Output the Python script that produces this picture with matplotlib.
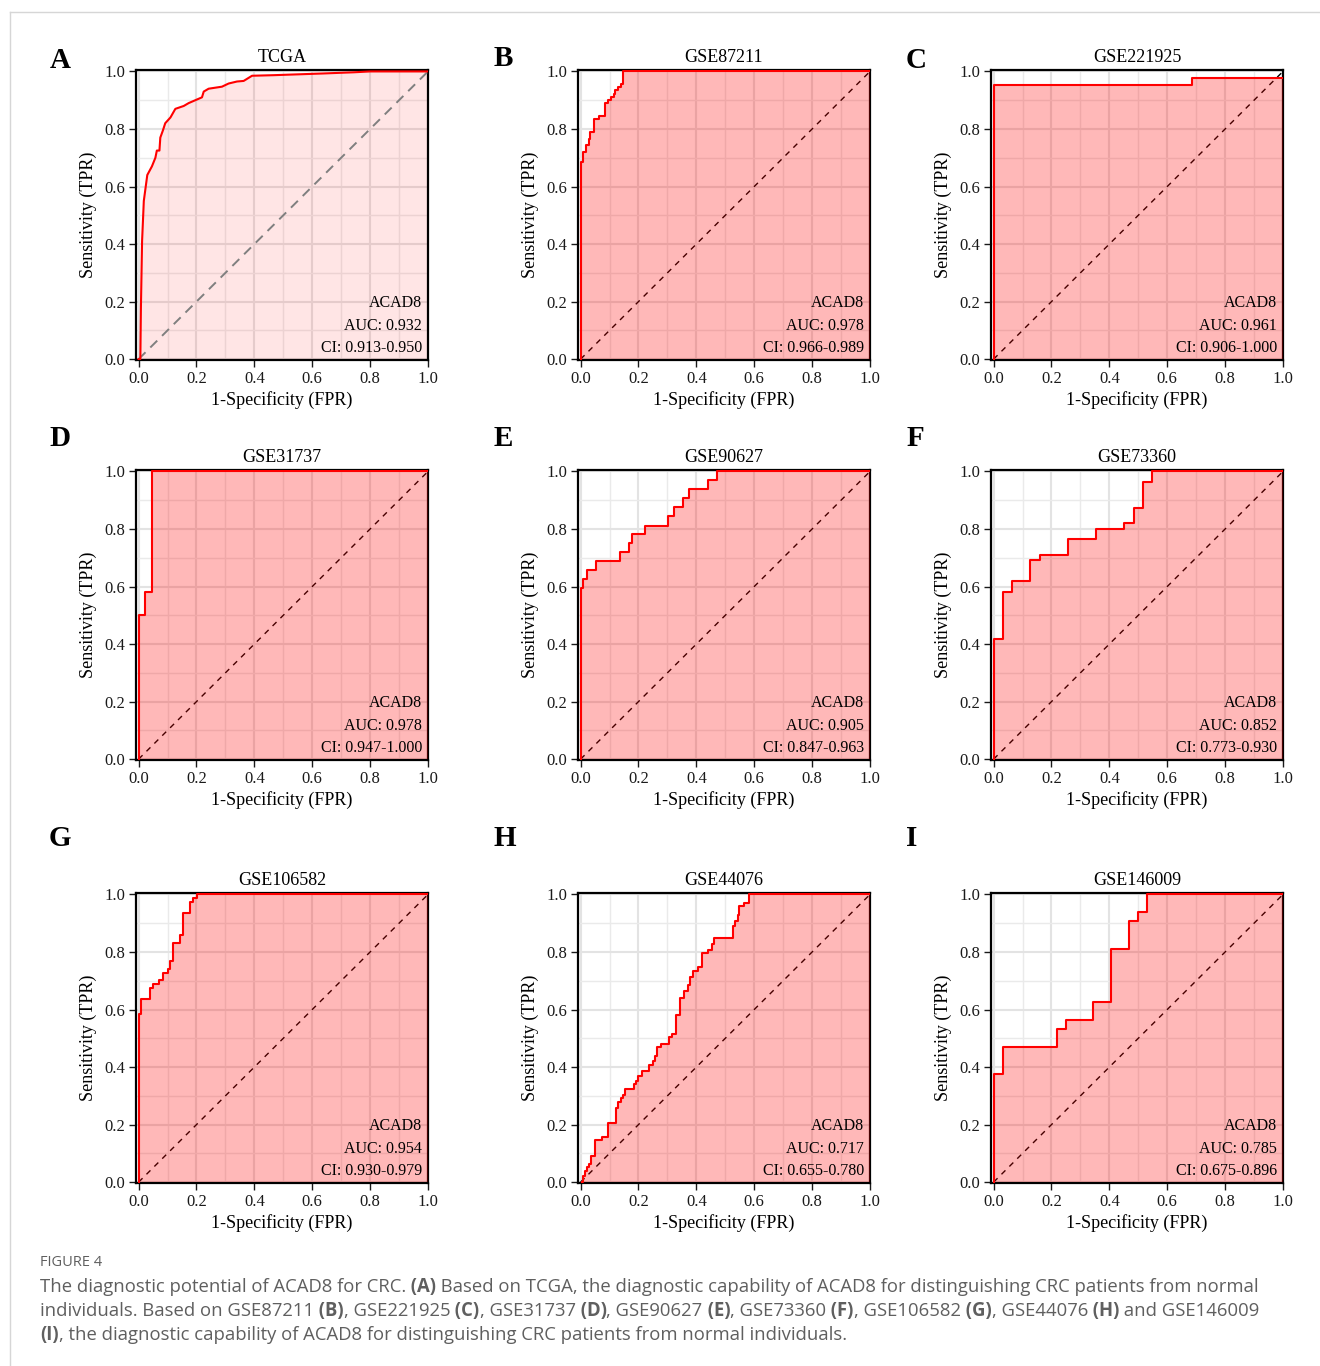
import numpy as np
import matplotlib
matplotlib.use("Agg")
import matplotlib.pyplot as plt
from matplotlib.lines import Line2D
from matplotlib.ticker import MultipleLocator

plt.rcParams['font.family'] = ['Liberation Serif', 'DejaVu Serif']

# data
letters = ['A', 'B', 'C', 'D', 'E', 'F', 'G', 'H', 'I']
titles = ['TCGA', 'GSE87211', 'GSE221925', 'GSE31737', 'GSE90627',
          'GSE73360', 'GSE106582', 'GSE44076', 'GSE146009']
auc = ['0.932', '0.978', '0.961', '0.978', '0.905', '0.852', '0.954', '0.717', '0.785']
ci = ['0.913-0.950', '0.966-0.989', '0.906-1.000', '0.947-1.000', '0.847-0.963',
      '0.773-0.930', '0.930-0.979', '0.655-0.780', '0.675-0.896']
gene = 'ACAD8'

fpr_a = [0.0, 0.006, 0.008, 0.012, 0.018, 0.03, 0.046, 0.058, 0.063, 0.072, 0.075, 0.084,
         0.092, 0.11, 0.127, 0.156, 0.173, 0.196, 0.219, 0.225, 0.242, 0.288, 0.311,
         0.34, 0.363, 0.392, 0.467, 0.64, 0.743, 0.80, 1.0]
tpr_a = [0.0, 0.0, 0.18, 0.41, 0.55, 0.64, 0.67, 0.70, 0.725, 0.725, 0.77, 0.795,
         0.82, 0.84, 0.87, 0.88, 0.89, 0.90, 0.91, 0.93, 0.94, 0.947, 0.958,
         0.965, 0.967, 0.985, 0.987, 0.993, 0.997, 1.0, 1.0]

fpr_b = [0, 0, 0.008, 0.02, 0.028, 0.033, 0.045, 0.065, 0.083, 0.095, 0.105, 0.115, 0.12, 0.13, 0.14, 0.148, 1.0]
tpr_b = [0, 0.685, 0.72, 0.745, 0.765, 0.79, 0.835, 0.845, 0.89, 0.9, 0.91, 0.92, 0.935, 0.945, 0.955, 1.0, 1.0]

fpr_c = [0, 0, 0.686, 1.0]
tpr_c = [0, 0.954, 0.977, 0.977]

fpr_d = [0, 0, 0.023, 0.048, 1.0]
tpr_d = [0, 0.5, 0.58, 1.0, 1.0]

fpr_e = [0, 0, 0.01, 0.023, 0.054, 0.136, 0.167, 0.178, 0.221, 0.303, 0.324, 0.355, 0.376, 0.439, 0.471, 1.0]
tpr_e = [0, 0.594, 0.625, 0.656, 0.688, 0.719, 0.75, 0.781, 0.812, 0.844, 0.875, 0.906, 0.938, 0.969, 1.0, 1.0]

fpr_f = [0, 0, 0.031, 0.063, 0.127, 0.159, 0.257, 0.354, 0.452, 0.484, 0.516, 0.548, 1.0]
tpr_f = [0, 0.419, 0.582, 0.619, 0.693, 0.71, 0.764, 0.801, 0.82, 0.873, 0.965, 1.0, 1.0]

fpr_g = [0, 0, 0.008, 0.04, 0.05, 0.069, 0.086, 0.101, 0.109, 0.119, 0.142, 0.153, 0.179, 0.188, 0.202, 1.0]
tpr_g = [0, 0.584, 0.636, 0.676, 0.688, 0.703, 0.728, 0.74, 0.769, 0.832, 0.86, 0.934, 0.973, 0.988, 1.0, 1.0]

fpr_h = [0.005, 0.008, 0.014, 0.023, 0.029, 0.037, 0.051, 0.074, 0.094, 0.123, 0.129, 0.138, 0.146,
         0.154, 0.184, 0.192, 0.198, 0.211, 0.238, 0.249, 0.257, 0.264, 0.278, 0.307, 0.315,
         0.33, 0.345, 0.357, 0.37, 0.379, 0.39, 0.407, 0.42, 0.439, 0.454, 0.462, 0.528,
         0.535, 0.543, 0.548, 0.566, 0.583, 1.0]
tpr_h = [0, 0.02, 0.04, 0.052, 0.064, 0.092, 0.145, 0.156, 0.205, 0.257, 0.277, 0.291, 0.302,
         0.325, 0.34, 0.351, 0.37, 0.387, 0.407, 0.422, 0.439, 0.47, 0.48, 0.503, 0.514,
         0.58, 0.641, 0.665, 0.685, 0.712, 0.735, 0.747, 0.797, 0.808, 0.828, 0.847, 0.891,
         0.908, 0.928, 0.96, 0.969, 1.0, 1.0]

fpr_i = [0, 0, 0.031, 0.219, 0.25, 0.344, 0.406, 0.469, 0.5, 0.531, 1.0]
tpr_i = [0, 0.375, 0.469, 0.531, 0.562, 0.625, 0.812, 0.906, 0.938, 1.0, 1.0]

fprs = [fpr_a, fpr_b, fpr_c, fpr_d, fpr_e, fpr_f, fpr_g, fpr_h, fpr_i]
tprs = [tpr_a, tpr_b, tpr_c, tpr_d, tpr_e, tpr_f, tpr_g, tpr_h, tpr_i]

W, H = 1320, 1366
fig = plt.figure(figsize=(W / 100, H / 100), dpi=100)

# background axes for border and caption
bg = fig.add_axes([0, 0, 1, 1])
bg.set_xlim(0, W)
bg.set_ylim(H, 0)
bg.axis('off')
bg.add_line(Line2D([9.5, 9.5], [12, H], color='#d6d6d6', lw=1))
bg.add_line(Line2D([9.5, W], [12, 12], color='#d6d6d6', lw=1))

col_left = [136, 578, 991]
row_top = [70, 470, 893]
aw, ah = 292, 290
letter_pos = [(60, 60), (503, 58), (916, 60),
              (60, 438), (503, 438), (915, 438),
              (60, 838), (505, 838), (912, 838)]

for k in range(9):
    r, c = divmod(k, 3)
    x0, y0 = col_left[c], row_top[r]
    ax = fig.add_axes([x0 / W, 1 - (y0 + ah) / H, aw / W, ah / H])
    ax.set_xlim(-0.009, 1.0)
    ax.set_ylim(-0.003, 1.005)
    ax.xaxis.set_major_locator(MultipleLocator(0.2))
    ax.yaxis.set_major_locator(MultipleLocator(0.2))
    ax.xaxis.set_minor_locator(MultipleLocator(0.1))
    ax.yaxis.set_minor_locator(MultipleLocator(0.1))
    ax.grid(which='major', color='#e3e3e3', lw=1.5, zorder=0)
    ax.grid(which='minor', color='#eaeaea', lw=1.0, zorder=0)
    ax.set_axisbelow(True)
    ax.tick_params(which='minor', length=0)
    ax.tick_params(which='major', direction='out', length=5, width=1,
                   labelsize=12, colors='#1a1a1a', pad=3)
    ax.xaxis.set_major_formatter(plt.FuncFormatter(lambda v, p: '%.1f' % v))
    ax.yaxis.set_major_formatter(plt.FuncFormatter(lambda v, p: '%.1f' % v))
    for sp in ax.spines.values():
        sp.set_linewidth(1.6)
        sp.set_color('black')

    fpr, tpr = fprs[k], tprs[k]
    if k == 0:
        ax.plot([0, 1], [0, 1], color='#7f7f7f', lw=1.4, dashes=(5, 3.5), zorder=3)
        ax.fill_between(fpr, tpr, 0, color='#ff0000', alpha=0.10, lw=0, zorder=2)
        ax.plot(fpr, tpr, color='#ff0000', lw=1.5, zorder=4)
    else:
        ax.plot([0, 1], [0, 1], color='black', lw=1.0, dashes=(4, 4), zorder=2)
        ax.fill_between(fpr, tpr, 0, step='post', color='#ff0000', alpha=0.28, lw=0, zorder=3)
        ax.step(fpr, tpr, where='post', color='#ff0000', lw=1.5, zorder=4)

    ax.set_title(titles[k], fontsize=13, pad=6)
    ax.set_xlabel('1-Specificity (FPR)', fontsize=13, labelpad=3)
    ax.set_ylabel('Sensitivity (TPR)', fontsize=13, labelpad=5)
    for j, s in enumerate([gene, 'AUC: ' + auc[k], 'CI: ' + ci[k]]):
        ax.text(0.98, 0.195 - 0.079 * j, s, ha='right', va='center', fontsize=11.5, zorder=5)

    lx, ly = letter_pos[k]
    bg.text(lx, ly, letters[k], ha='center', va='center', fontsize=21, fontweight='bold')

# caption
cap_font = ['Open Sans', 'DejaVu Sans']
cap_col = '#5f5f5f'
bg.text(40, 1263, 'FIGURE 4', ha='left', va='center', fontsize=10.5, color=cap_col, family=cap_font)

lines = [
    [("The diagnostic potential of ACAD8 for CRC.", False), (" (A)", True),
     (" Based on TCGA, the diagnostic capability of ACAD8 for distinguishing CRC patients from normal", False)],
    [("individuals. Based on GSE87211", False), (" (B)", True), (", GSE221925", False), (" (C)", True),
     (", GSE31737", False), (" (D)", True), (", GSE90627", False), (" (E)", True),
     (", GSE73360", False), (" (F)", True), (", GSE106582", False), (" (G)", True),
     (", GSE44076", False), (" (H)", True), (" and GSE146009", False)],
    [("(I)", True), (", the diagnostic capability of ACAD8 for distinguishing CRC patients from normal individuals.", False)],
]
for n, parts in enumerate(lines):
    yline = 1287 + 24 * n
    prev = None
    for s, bold in parts:
        kw = dict(fontsize=13.35, color=cap_col, family=cap_font,
                  fontweight='bold' if bold else 'normal')
        if prev is None:
            prev = bg.text(40, yline, s, ha='left', va='center', **kw)
        else:
            prev = bg.annotate(s, xy=(1, 0.5), xycoords=prev, ha='left', va='center', **kw)

fig.savefig('out.png', dpi=100)
